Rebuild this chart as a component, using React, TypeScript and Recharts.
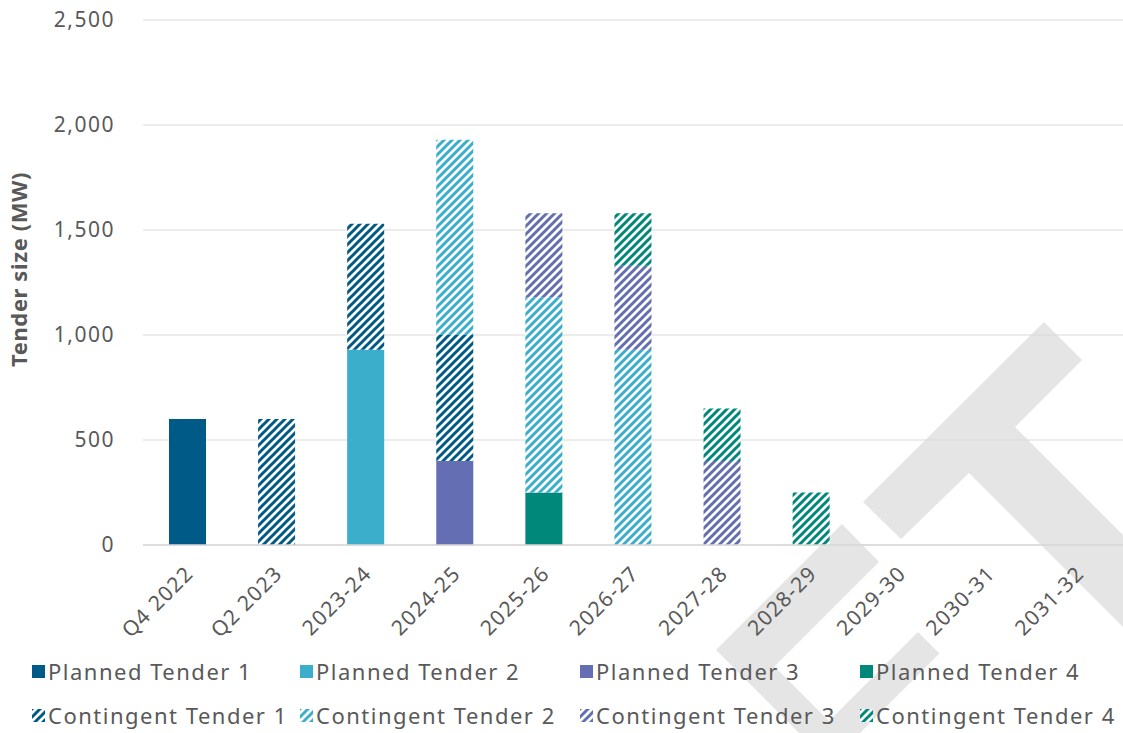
import React from 'react';
import { BarChart, Bar, XAxis, YAxis, CartesianGrid } from 'recharts';

const categories = ['Q4 2022', 'Q2 2023', '2023-24', '2024-25', '2025-26', '2026-27', '2027-28', '2028-29', '2029-30', '2030-31', '2031-32'];
const planned1 = [600, 0, 0, 0, 0, 0, 0, 0, 0, 0, 0];
const planned2 = [0, 0, 930, 0, 0, 0, 0, 0, 0, 0, 0];
const planned3 = [0, 0, 0, 400, 0, 0, 0, 0, 0, 0, 0];
const planned4 = [0, 0, 0, 0, 250, 0, 0, 0, 0, 0, 0];
const contingent1 = [0, 600, 600, 600, 0, 0, 0, 0, 0, 0, 0];
const contingent2 = [0, 0, 0, 930, 930, 930, 0, 0, 0, 0, 0];
const contingent3 = [0, 0, 0, 0, 400, 400, 400, 0, 0, 0, 0];
const contingent4 = [0, 0, 0, 0, 0, 250, 250, 250, 0, 0, 0];
const yTicks = [0, 500, 1000, 1500, 2000, 2500];

const seriesKeys = ['p1', 'p2', 'p3', 'p4', 'c1', 'c2', 'c3', 'c4'];
const seriesNames = ['Planned Tender 1', 'Planned Tender 2', 'Planned Tender 3', 'Planned Tender 4', 'Contingent Tender 1', 'Contingent Tender 2', 'Contingent Tender 3', 'Contingent Tender 4'];
const baseColors = ['#005a87', '#3aaecb', '#636eb3', '#00887a'];
const seriesValues = [planned1, planned2, planned3, planned4, contingent1, contingent2, contingent3, contingent4];

const data = categories.map((c, i) => {
  const row: Record<string, any> = { name: c };
  seriesKeys.forEach((k, j) => { row[k] = seriesValues[j][i]; });
  return row;
});

const FONT = '"Noto Sans", sans-serif';
const TEXT = '#595959';

const fillFor = (j: number) => (j < 4 ? baseColors[j] : `url(#hatch${j - 4})`);

const XTick = (props: any) => {
  const { x, y, payload } = props;
  return (
    <g transform={`translate(${x + 7},${y + 22})`}>
      <text transform="rotate(-45)" textAnchor="end" fill={TEXT} fontSize={21} letterSpacing={1.2} fontFamily={FONT}>
        {payload.value}
      </text>
    </g>
  );
};

const YTick = (props: any) => {
  const { x, y, payload } = props;
  return (
    <text x={x} y={y} dy={7} textAnchor="end" fill={TEXT} fontSize={21} letterSpacing={1.5} fontFamily={FONT}>
      {Number(payload.value).toLocaleString('en-US')}
    </text>
  );
};

const YLabel = (props: any) => {
  const vb = props.viewBox || {};
  const cy = (vb.y ?? 20) + (vb.height ?? 525) / 2;
  return (
    <text transform={`translate(27,${cy - 13}) rotate(-90)`} textAnchor="middle" fill={TEXT} fontSize={22} letterSpacing={0.6} fontWeight="bold" fontFamily={FONT}>
      Tender size (MW)
    </text>
  );
};

const legendCols = [32, 300, 580, 860];
const legendRows = [671, 715];

export default function App() {
  return (
    <div style={{ position: 'absolute', left: 0, top: 0, width: 1123, height: 733, background: '#ffffff', overflow: 'hidden', fontFamily: FONT }}>
      <svg width={0} height={0} style={{ position: 'absolute' }}>
        <defs>
          {baseColors.map((c, i) => (
            <pattern key={i} id={`hatch${i}`} patternUnits="userSpaceOnUse" width={8} height={8}>
              <rect width={8} height={8} fill="#ffffff" />
              <path d="M-2,2 l4,-4 M0,8 l8,-8 M6,10 l4,-4" stroke={c} strokeWidth={3} />
            </pattern>
          ))}
        </defs>
      </svg>
      <svg width={1123} height={733} style={{ position: 'absolute', left: 0, top: 0 }}>
        <polygon points="863,502 1044,322 1082,360 1015,427 1123,535 1123,627 969,473 901,539" fill="#e5e5e5" />
        <polygon points="842,524 879,562 774.5,666.5 829,721 918,632 939.5,653.5 860,733 799,733 716,650" fill="#e5e5e5" />
      </svg>
      <div style={{ position: 'absolute', left: 0, top: 0 }}>
        <BarChart width={1123} height={733} data={data} margin={{ top: 20, right: 0, left: 0, bottom: 88 }} barSize={37}>
          <CartesianGrid vertical={false} stroke="#d9d9d9" strokeWidth={1} />
          <XAxis dataKey="name" interval={0} height={100} tick={<XTick />} tickLine={false} axisLine={{ stroke: '#d9d9d9', strokeWidth: 1.5 }} />
          <YAxis width={143} domain={[0, 2500]} ticks={yTicks} tickLine={false} axisLine={false} tickSize={0} tickMargin={28}
            tick={<YTick />}
            label={<YLabel />} />
          {seriesKeys.map((k, j) => (
            <Bar key={k} dataKey={k} name={seriesNames[j]} stackId="a" fill={fillFor(j)} isAnimationActive={false} />
          ))}
        </BarChart>
      </div>
      {seriesNames.map((n, j) => {
        const col = j % 4;
        const row = Math.floor(j / 4);
        return (
          <div key={n} style={{ position: 'absolute', left: legendCols[col], top: legendRows[row] - 16, height: 32, display: 'flex', alignItems: 'center', whiteSpace: 'nowrap' }}>
            <svg width={13} height={13} style={{ marginRight: 3 }}>
              <rect width={13} height={13} fill={fillFor(j)} />
            </svg>
            <span style={{ fontSize: 22, color: TEXT, fontFamily: FONT, letterSpacing: 1.5 }}>{n}</span>
          </div>
        );
      })}
    </div>
  );
}
